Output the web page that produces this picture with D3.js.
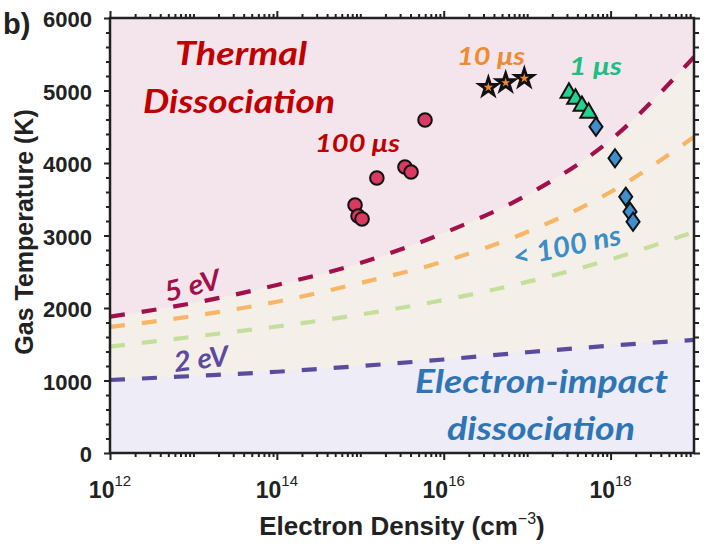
<!DOCTYPE html>
<html>
<head>
<meta charset="utf-8">
<script src="https://cdn.jsdelivr.net/npm/d3@7"></script>
<style>
  body { margin: 0; background: #fff; }
  svg { display: block; }
  .ann { font-family: Lato, "Open Sans", sans-serif; font-style: italic; font-weight: 700; }
  .axis-text { font-family: "Liberation Sans", Arial, sans-serif; font-weight: 700; fill: #222; }
</style>
</head>
<body>
<div id="chart"></div>
<script>
// electron density decades (exponent of 10, cm^-3)
var decades = [12, 13, 14, 15, 16, 17, 18, 19];
// boundary curves, gas temperature (K) at each decade
var curve5eV    = [1880, 2069, 2317, 2621, 3034, 3559, 4317, 5462];
var curveOrange = [1738, 1890, 2087, 2345, 2641, 3048, 3600, 4359];
var curveGreen  = [1466, 1605, 1745, 1910, 2110, 2360, 2670, 3050];
var curve2eV    = [1007, 1062, 1121, 1200, 1290, 1390, 1480, 1560];

// measurements: [density, gas temperature]
var pts100us = [[5.97e15, 4593], [1.58e15, 3793], [3.43e15, 3945], [4.06e15, 3876],
                [8.65e14, 3421], [9.4e14, 3269], [1.05e15, 3228]];
var pts10us  = [[3.43e16, 5044], [5.53e16, 5108], [9.25e16, 5168]];
var pts1us   = [[3.17e17, 4966], [3.8e17, 4883], [4.54e17, 4786], [5.46e17, 4690]];
var pts100ns = [[6.68e17, 4501], [1.13e18, 4065], [1.52e18, 3535], [1.71e18, 3328], [1.86e18, 3190]];

var xLabelDecades = [12, 14, 16, 18];
var yLabels = [0, 1000, 2000, 3000, 4000, 5000, 6000];

var W = 715, H = 547;
var pL = 110, pR = 694, pT = 18, pB = 453;

var svg = d3.select("#chart").append("svg")
  .attr("width", W)
  .attr("height", H);

var x = d3.scaleLog().domain([1e12, 1e19]).range([pL, pR]);
var y = d3.scaleLinear().domain([0, 6000]).range([pB, pT]);

svg.append("clipPath").attr("id", "plotclip")
  .append("rect")
  .attr("x", pL).attr("y", pT)
  .attr("width", pR - pL).attr("height", pB - pT);

var plot = svg.append("g").attr("clip-path", "url(#plotclip)");

// background regions
plot.append("rect")
  .attr("x", pL).attr("y", pT)
  .attr("width", pR - pL).attr("height", pB - pT)
  .attr("fill", "#f4e5ed");

var rows = decades.map(function(d, i) {
  return { n: Math.pow(10, d), t5: curve5eV[i], to: curveOrange[i], tg: curveGreen[i], t2: curve2eV[i] };
});

var area = d3.area()
  .x(function(d) { return x(d.n); })
  .curve(d3.curveMonotoneX);

plot.append("path")
  .datum(rows)
  .attr("d", area.y0(function(d) { return y(d.t2); }).y1(function(d) { return y(d.t5); }))
  .attr("fill", "#f5efe9");

plot.append("path")
  .datum(rows)
  .attr("d", area.y0(function() { return y(0); }).y1(function(d) { return y(d.t2); }))
  .attr("fill", "#eeecf6");

// dashed boundary lines
var lines = [
  { key: "t5", color: "#a1104a" },
  { key: "to", color: "#f7b566" },
  { key: "tg", color: "#c4df9c" },
  { key: "t2", color: "#5b4b9f" }
];

lines.forEach(function(l) {
  var line = d3.line()
    .x(function(d) { return x(d.n); })
    .y(function(d) { return y(d[l.key]); })
    .curve(d3.curveMonotoneX);
  plot.append("path")
    .datum(rows)
    .attr("d", line)
    .attr("fill", "none")
    .attr("stroke", l.color)
    .attr("stroke-width", 4.2)
    .attr("stroke-dasharray", "15,17");
});

// markers
plot.selectAll(".c100").data(pts100us).enter().append("circle")
  .attr("cx", function(d) { return x(d[0]); })
  .attr("cy", function(d) { return y(d[1]); })
  .attr("r", 6.8)
  .attr("fill", "#d93a62")
  .attr("stroke", "#111")
  .attr("stroke-width", 2);

plot.selectAll(".s10").data(pts10us).enter().append("path")
  .attr("transform", function(d) { return "translate(" + x(d[0]) + "," + y(d[1]) + ")"; })
  .attr("d", d3.symbol().type(d3.symbolStar).size(100))
  .attr("fill", "#f08a2a")
  .attr("stroke", "#111")
  .attr("stroke-width", 2.8)
  .attr("stroke-linejoin", "miter");

plot.selectAll(".t1").data(pts1us).enter().append("path")
  .attr("transform", function(d) { return "translate(" + x(d[0]) + "," + y(d[1]) + ")"; })
  .attr("d", d3.symbol().type(d3.symbolTriangle).size(120))
  .attr("fill", "#22d38f")
  .attr("stroke", "#111")
  .attr("stroke-width", 2);

var tallDiamond = {
  draw: function(ctx, size) {
    var h = Math.sqrt(size) * 0.78, w = h * 0.72;
    ctx.moveTo(0, -h); ctx.lineTo(w, 0); ctx.lineTo(0, h); ctx.lineTo(-w, 0); ctx.closePath();
  }
};
plot.selectAll(".d100").data(pts100ns).enter().append("path")
  .attr("transform", function(d) { return "translate(" + x(d[0]) + "," + y(d[1]) + ")"; })
  .attr("d", d3.symbol().type(tallDiamond).size(135))
  .attr("fill", "#3f8fcf")
  .attr("stroke", "#111")
  .attr("stroke-width", 2);

// annotations
function ann(txt, px, py, size, color, len, rot) {
  var t = svg.append("text")
    .attr("class", "ann")
    .attr("transform", "translate(" + px + "," + py + ")" + (rot ? " rotate(" + rot + ")" : ""))
    .attr("font-size", size)
    .attr("fill", color)
    .text(txt);
  if (len) t.attr("textLength", len).attr("lengthAdjust", "spacingAndGlyphs");
  return t;
}
ann("Thermal", 175, 65, 33, "#c00000", 132);
ann("Dissociation", 143, 113, 33, "#c00000", 192);
ann("100 \u03bcs", 315, 152, 25, "#c00000", 85);
ann("10 \u03bcs", 457, 65, 25, "#ef8a2f", 68);
ann("1 \u03bcs", 569, 75, 24, "#1dbe84", 53);
ann("5 eV", 167, 302, 28, "#a1104a", 57, -14);
ann("2 eV", 175, 372, 28, "#5b4b9f", 55, -7);
ann("< 100 ns", 515, 267, 28, "#3b8dc6", 110, -12);
ann("Electron-impact", 415, 393, 32, "#2e75b6", 253);
ann("dissociation", 447, 440, 32, "#2e75b6", 188);

// axes
var axisColor = "#222";
var minorX = [];
for (var d = 12; d < 19; d++) {
  for (var m = 1; m <= 9; m++) {
    if (m === 1 && d % 2 === 0) continue;
    minorX.push(m * Math.pow(10, d));
  }
}
var majorX = xLabelDecades.map(function(d) { return Math.pow(10, d); });
var minorY = d3.range(0, 6001, 200).filter(function(v) { return v % 1000 !== 0; });

function styleAxis(g) {
  g.select(".domain").remove();
  g.selectAll("line").attr("stroke", axisColor).attr("stroke-width", 2);
}

svg.append("g").attr("transform", "translate(0," + pB + ")")
  .call(d3.axisBottom(x).tickValues(majorX).tickSize(7).tickFormat(""))
  .call(styleAxis);
svg.append("g").attr("transform", "translate(0," + pB + ")")
  .call(d3.axisBottom(x).tickValues(minorX).tickSize(4).tickFormat(""))
  .call(styleAxis);
svg.append("g").attr("transform", "translate(0," + pT + ")")
  .call(d3.axisTop(x).tickValues(majorX).tickSize(7).tickFormat(""))
  .call(styleAxis);
svg.append("g").attr("transform", "translate(0," + pT + ")")
  .call(d3.axisTop(x).tickValues(minorX).tickSize(4).tickFormat(""))
  .call(styleAxis);

var yAxisL = svg.append("g").attr("transform", "translate(" + pL + ",0)")
  .call(d3.axisLeft(y).tickValues(yLabels).tickSize(6).tickPadding(12).tickFormat(d3.format("d")))
  .call(styleAxis);
yAxisL.selectAll("text")
  .attr("class", "axis-text")
  .attr("font-size", 22)
  .attr("dy", "0.4em");
svg.append("g").attr("transform", "translate(" + pL + ",0)")
  .call(d3.axisLeft(y).tickValues(minorY).tickSize(4).tickFormat(""))
  .call(styleAxis);
svg.append("g").attr("transform", "translate(" + pR + ",0)")
  .call(d3.axisRight(y).tickValues(yLabels).tickSize(6).tickFormat(""))
  .call(styleAxis);
svg.append("g").attr("transform", "translate(" + pR + ",0)")
  .call(d3.axisRight(y).tickValues(minorY).tickSize(5).tickFormat(""))
  .call(styleAxis);

// frame
svg.append("rect")
  .attr("x", pL).attr("y", pT)
  .attr("width", pR - pL).attr("height", pB - pT)
  .attr("fill", "none")
  .attr("stroke", axisColor)
  .attr("stroke-width", 2.5);

// x tick labels 10^n
var xl = svg.selectAll(".xl").data(xLabelDecades).enter().append("text")
  .attr("class", "axis-text")
  .attr("x", function(d) { return x(Math.pow(10, d)); })
  .attr("y", 498)
  .attr("text-anchor", "middle")
  .attr("font-size", 23);
xl.append("tspan").text("10");
xl.append("tspan").attr("font-size", 15).attr("dy", -12).attr("font-weight", 400)
  .text(function(d) { return d; });

// axis titles
var xt = svg.append("text")
  .attr("class", "axis-text")
  .attr("x", (pL + pR) / 2)
  .attr("y", 535)
  .attr("text-anchor", "middle")
  .attr("font-size", 26);
xt.append("tspan").text("Electron Density (cm");
xt.append("tspan").attr("font-size", 16).attr("dy", -11).attr("font-weight", 400).text("\u22123");
xt.append("tspan").attr("dy", 11).text(")");

svg.append("text")
  .attr("class", "axis-text")
  .attr("transform", "translate(33,232) rotate(-90)")
  .attr("text-anchor", "middle")
  .attr("font-size", 25)
  .text("Gas Temperature (K)");

svg.append("text")
  .attr("class", "axis-text")
  .attr("x", 3)
  .attr("y", 34)
  .attr("font-size", 29)
  .attr("fill", "#111")
  .text("b)");
</script>
</body>
</html>
